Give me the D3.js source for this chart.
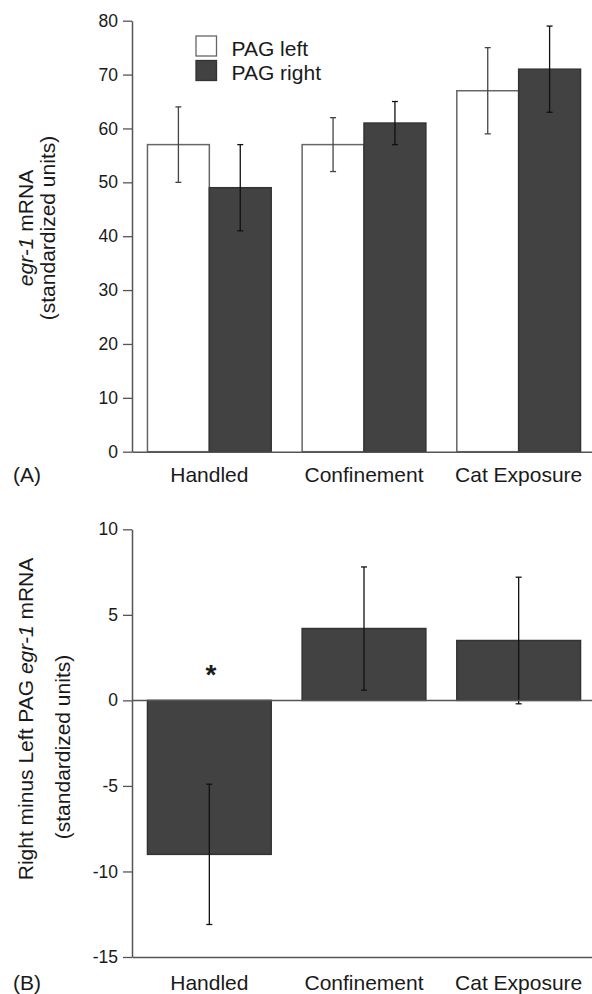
<!DOCTYPE html>
<html><head><meta charset="utf-8">
<script src="https://cdn.jsdelivr.net/npm/d3@7"></script>
<style>
html,body{margin:0;padding:0;background:#fff;}
svg text{font-family:"Liberation Sans",Arial,Helvetica,sans-serif;fill:#1a1a1a;}
</style></head>
<body>
<svg id="chart" width="592" height="994"></svg>
<script>
// ---- data ----
const categories = ["Handled", "Confinement", "Cat Exposure"];
const seriesNames = ["PAG left", "PAG right"];
const leftValues = [57, 57, 67];
const leftErrors = [7, 5, 8];
const rightValues = [49, 61, 71];
const rightErrors = [8, 4, 8];
const diffValues = [-9, 4.2, 3.5];
const diffErrors = [4.1, 3.6, 3.7];
const ticksA = [0, 10, 20, 30, 40, 50, 60, 70, 80];
const ticksB = [-15, -10, -5, 0, 5, 10];

const svg = d3.select("#chart");
const DARK = "#424242";
const AXIS = "#555";
const FS = 21;

const x0 = d3.scaleBand().domain(categories).range([132, 596]).paddingInner(0.2).paddingOuter(0.1);
const x1 = d3.scaleBand().domain(seriesNames).range([0, x0.bandwidth()]);

// ---------- Panel A ----------
const yA = d3.scaleLinear().domain([0, 80]).range([451.7, 20.7]);
const gA = svg.append("g");

const rowsA = categories.map((c, i) => [
  {cat: c, s: seriesNames[0], v: leftValues[i], e: leftErrors[i]},
  {cat: c, s: seriesNames[1], v: rightValues[i], e: rightErrors[i]}
]).flat();

gA.selectAll("rect.bar").data(rowsA).enter().append("rect")
  .attr("x", d => x0(d.cat) + x1(d.s))
  .attr("y", d => yA(d.v))
  .attr("width", x1.bandwidth())
  .attr("height", d => yA(0) - yA(d.v))
  .attr("fill", d => d.s === seriesNames[0] ? "#fff" : DARK)
  .attr("stroke", d => d.s === seriesNames[0] ? "#666" : "#333")
  .attr("stroke-width", 1.5);

function errBars(g, rows, xf, y) {
  const eg = g.selectAll("g.err").data(rows).enter().append("g")
    .attr("stroke", d => d.dark ? "#111" : "#444").attr("stroke-width", 1.3);
  eg.append("line").attr("x1", xf).attr("x2", xf)
    .attr("y1", d => y(d.v + d.e)).attr("y2", d => y(d.v - d.e));
  eg.append("line").attr("x1", d => xf(d) - 3).attr("x2", d => xf(d) + 3)
    .attr("y1", d => y(d.v + d.e)).attr("y2", d => y(d.v + d.e));
  eg.append("line").attr("x1", d => xf(d) - 3).attr("x2", d => xf(d) + 3)
    .attr("y1", d => y(d.v - d.e)).attr("y2", d => y(d.v - d.e));
}
errBars(gA, rowsA.map(d => Object.assign({dark: d.s === seriesNames[1]}, d)),
  d => x0(d.cat) + x1(d.s) + x1.bandwidth() / 2, yA);

// axes A
const axA = gA.append("g").attr("transform", "translate(132,0)")
  .call(d3.axisLeft(yA).tickValues(ticksA).tickFormat(d => String(d)).tickSize(9).tickPadding(5).tickSizeOuter(0));
axA.select(".domain").attr("stroke", AXIS).attr("stroke-width", 1.5);
axA.selectAll(".tick line").attr("stroke", AXIS).attr("stroke-width", 1.3);
axA.selectAll(".tick text").attr("font-size", 17.5).attr("fill", "#1a1a1a")
  .attr("font-family", "Liberation Sans, Arial, sans-serif");

const bxA = gA.append("g").attr("transform", `translate(0,${yA(0)})`)
  .call(d3.axisBottom(x0).tickSize(0).tickPadding(15.5).tickSizeOuter(0));
bxA.select(".domain").attr("stroke", AXIS).attr("stroke-width", 1.5);
bxA.selectAll(".tick text").attr("font-size", FS).attr("fill", "#1a1a1a")
  .attr("font-family", "Liberation Sans, Arial, sans-serif");

// legend
const leg = gA.selectAll("g.leg").data(seriesNames).enter().append("g")
  .attr("transform", (d, i) => `translate(196,${36 + i * 24.5})`);
leg.append("rect").attr("width", 20.5).attr("height", 20)
  .attr("fill", (d, i) => i === 0 ? "#fff" : DARK)
  .attr("stroke", (d, i) => i === 0 ? "#666" : "#333").attr("stroke-width", 1.3);
leg.append("text").attr("x", 35.5).attr("y", 19.5).attr("font-size", FS).text(d => d);

// y title A
const tA = gA.append("text").attr("transform", "translate(33,228) rotate(-90)")
  .attr("text-anchor", "middle").attr("font-size", FS);
tA.append("tspan").attr("font-style", "italic").text("egr-1");
tA.append("tspan").text(" mRNA");
gA.append("text").attr("transform", "translate(55,228) rotate(-90)")
  .attr("text-anchor", "middle").attr("font-size", FS).text("(standardized units)");

gA.append("text").attr("x", 13).attr("y", 481.7).attr("font-size", FS).text("(A)");

// ---------- Panel B ----------
const yB = d3.scaleLinear().domain([-15, 10]).range([957, 529.3]);
const gB = svg.append("g");
const rowsB = categories.map((c, i) => ({cat: c, v: diffValues[i], e: diffErrors[i], dark: true}));

gB.selectAll("rect.bar").data(rowsB).enter().append("rect")
  .attr("x", d => x0(d.cat))
  .attr("y", d => yB(Math.max(0, d.v)))
  .attr("width", x0.bandwidth())
  .attr("height", d => Math.abs(yB(d.v) - yB(0)))
  .attr("fill", DARK).attr("stroke", "#333").attr("stroke-width", 1.5);

errBars(gB, rowsB, d => x0(d.cat) + x0.bandwidth() / 2, yB);

// zero line
gB.append("line").attr("x1", 132).attr("x2", 596)
  .attr("y1", yB(0)).attr("y2", yB(0)).attr("stroke", AXIS).attr("stroke-width", 1.5);

const axB = gB.append("g").attr("transform", "translate(132,0)")
  .call(d3.axisLeft(yB).tickValues(ticksB).tickFormat(d => String(d)).tickSize(9).tickPadding(5).tickSizeOuter(0));
axB.select(".domain").attr("stroke", AXIS).attr("stroke-width", 1.5);
axB.selectAll(".tick line").attr("stroke", AXIS).attr("stroke-width", 1.3);
axB.selectAll(".tick text").attr("font-size", 17.5).attr("fill", "#1a1a1a")
  .attr("font-family", "Liberation Sans, Arial, sans-serif");

const bxB = gB.append("g").attr("transform", `translate(0,${yB(-15)})`)
  .call(d3.axisBottom(x0).tickSize(0).tickPadding(18).tickSizeOuter(0));
bxB.select(".domain").attr("stroke", AXIS).attr("stroke-width", 1.5);
bxB.selectAll(".tick text").attr("font-size", FS).attr("fill", "#1a1a1a")
  .attr("font-family", "Liberation Sans, Arial, sans-serif");

// asterisk
gB.append("text").attr("x", x0("Handled") + x0.bandwidth() / 2 + 1.5).attr("y", 684)
  .attr("text-anchor", "middle").attr("font-size", 28).attr("font-weight", "bold").text("*");

// y title B
const tB = gB.append("text").attr("transform", "translate(33,719) rotate(-90)")
  .attr("text-anchor", "middle").attr("font-size", FS);
tB.append("tspan").text("Right minus Left PAG ");
tB.append("tspan").attr("font-style", "italic").text("egr-1");
tB.append("tspan").text(" mRNA");
gB.append("text").attr("transform", "translate(70,747) rotate(-90)")
  .attr("text-anchor", "middle").attr("font-size", FS).text("(standardized units)");

gB.append("text").attr("x", 13).attr("y", 990).attr("font-size", FS).text("(B)");
</script>
</body></html>
